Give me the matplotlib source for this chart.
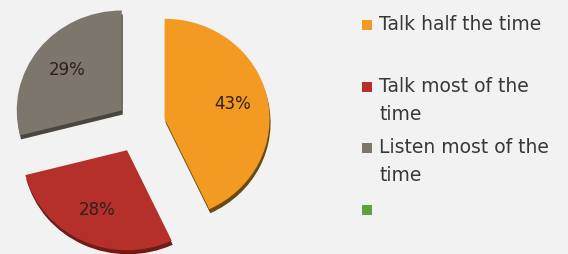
import matplotlib.pyplot as plt
from matplotlib.patches import Rectangle

# DATA
labels = [
    "Talk half the time",
    "Talk most of the\ntime",
    "Listen most of the\ntime",
    ""
]
values = [43, 28, 29, 0]
colors = ["#f39a22", "#b5302a", "#7d766c", "#5ba33a"]
shadow_colors = ["#6b4a12", "#6e1c18", "#4a453f", "#3a6a25"]

explode = [24, 29, 22, 0]

# legend rows (pixel y of first text line, from top)
legend_y = [25, 87, 148, 210]

W, H = 568, 254
XSTRETCH = 1.05

fig = plt.figure(figsize=(W / 100, H / 100), dpi=100)
fig.patch.set_facecolor("#f2f2f2")

ax = fig.add_axes([0, 0, 1, 1])
ax.set_facecolor("#f2f2f2")

# shadow layer for a bit of depth
ax.pie(
    values,
    colors=shadow_colors,
    startangle=90,
    counterclock=False,
    radius=100,
    center=(141 / XSTRETCH, 126),
    explode=explode,
    wedgeprops={"linewidth": 0}
)

wedges, texts, autotexts = ax.pie(
    values,
    colors=colors,
    startangle=90,
    counterclock=False,
    radius=100,
    center=(140 / XSTRETCH, 130),
    explode=explode,
    autopct=lambda p: "%d%%" % round(p) if p > 0 else "",
    pctdistance=0.66,
    wedgeprops={"linewidth": 0},
    textprops={"fontsize": 12, "color": "#2e2118"}
)

ax.set_aspect("auto")
ax.set_xlim(0, W / XSTRETCH)
ax.set_ylim(0, H)
ax.axis("off")

# LEGEND
for lab, col, yy in zip(labels, colors, legend_y):

    fig.patches.append(
        Rectangle(
            (362 / W, (H - yy - 5) / H),
            10 / W,
            10 / H,
            color=col,
            linewidth=0,
            transform=fig.transFigure,
            figure=fig
        )
    )

    fig.text(
        379 / W,
        (H - yy + 10) / H,
        lab,
        ha="left",
        va="top",
        fontsize=13.5,
        color="#383838",
        linespacing=1.6
    )

fig.savefig("out.png", dpi=100, facecolor=fig.get_facecolor())
